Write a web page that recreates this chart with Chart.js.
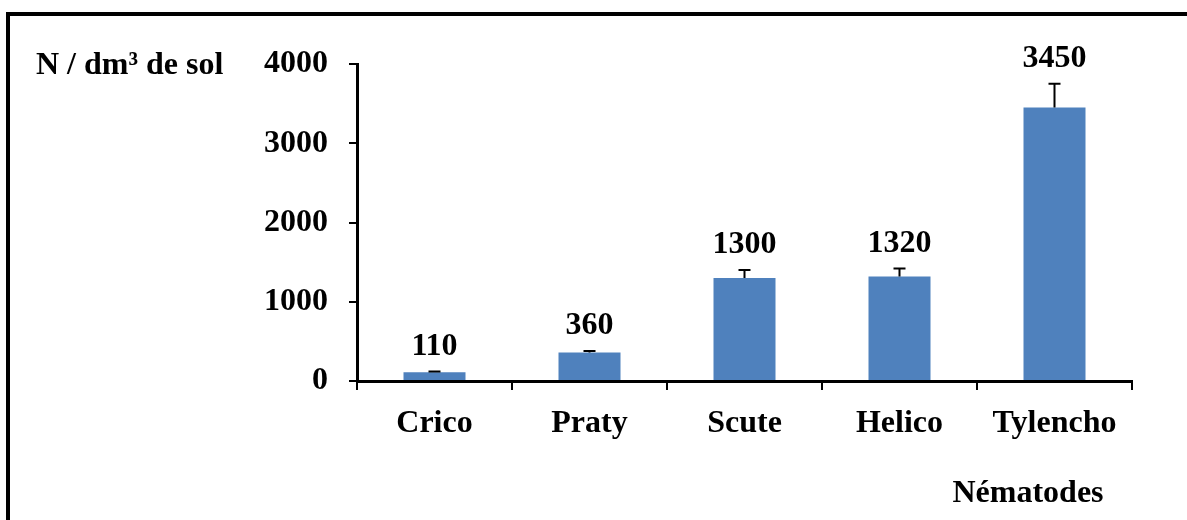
<!DOCTYPE html>
<html>
<head>
<meta charset="utf-8">
<script src="https://cdn.jsdelivr.net/npm/chart.js@4.4.1/dist/chart.umd.min.js"></script>
<style>
  body{margin:0;background:#fff;}
  #wrap{width:1187px;height:520px;}
</style>
</head>
<body>
<div id="wrap"><canvas id="mycanvas" width="1187" height="520"></canvas></div>
<script>

// data
var nematodes=["Crico","Praty","Scute","Helico","Tylencho"]
var densite=[110,360,1300,1320,3450]
var erreur=[10,20,100,100,300]
var yTicks=[0,1000,2000,3000,4000]

var yTitle="N / dm\u00b3 de sol"
var xTitle="N\u00e9matodes"

var police="'Liberation Serif', 'Times New Roman', serif"
var taille=32

//-----------------------------------------------------------------------------------------

// black frame round the picture (right and bottom sides are cut off)
var cadre={
    id:"cadre",
    beforeDraw:function(chart){
        var ctx=chart.ctx;
        ctx.save();
        ctx.strokeStyle="#000";
        ctx.lineWidth=4;
        ctx.beginPath();
        ctx.moveTo(8,520);
        ctx.lineTo(8,14);
        ctx.lineTo(1187,14);
        ctx.stroke();
        ctx.restore();
    }
}

// error bars (plus only) and value labels
var erreurs={
    id:"erreurs",
    afterDatasetsDraw:function(chart){
        var ctx=chart.ctx;
        var y=chart.scales.y;
        var meta=chart.getDatasetMeta(0);
        ctx.save();
        ctx.strokeStyle="#000";
        ctx.lineWidth=2;
        ctx.fillStyle="#000";
        ctx.font="bold "+taille+"px "+police;
        ctx.textAlign="center";
        ctx.textBaseline="middle";
        for(var i=0;i<densite.length;i++){
            var x=meta.data[i].x;
            var y0=y.getPixelForValue(densite[i]);
            var y1=y.getPixelForValue(densite[i]+erreur[i]);
            ctx.beginPath();
            ctx.moveTo(x,y0);
            ctx.lineTo(x,y1);
            ctx.moveTo(x-6,y1);
            ctx.lineTo(x+6,y1);
            ctx.stroke();
            ctx.fillText(String(densite[i]),x,y1-25);
        }
        // axis titles
        var area=chart.chartArea;
        ctx.textBaseline="alphabetic";
        ctx.textAlign="left";
        ctx.fillText(yTitle,36,area.top+10);
        ctx.textAlign="center";
        ctx.fillText(xTitle,area.right-104,502);
        ctx.restore();
    }
}

//-----------------------------------------------------------------------------------------

function drawchart(){
    const canvas=document.getElementById("mycanvas");
    const ctx=canvas.getContext("2d");
    var chart=new Chart(ctx,{
        type:"bar",
        data:{
            labels:nematodes,
            datasets:[{
                data:densite,
                backgroundColor:"#4F81BD",
                borderWidth:0,
                barPercentage:0.4,
                categoryPercentage:1
            }]
        },
        options:{
            responsive:false,
            animation:false,
            layout:{padding:{left:0,top:64,right:55,bottom:0}},
            plugins:{legend:{display:false},tooltip:{enabled:false},title:{display:false}},
            scales:{
                x:{
                    afterFit:function(s){ s.height=520-381; },
                    border:{color:"#000",width:3},
                    grid:{display:true,drawOnChartArea:false,drawTicks:true,tickLength:9,color:"#000",lineWidth:2},
                    ticks:{color:"#000",padding:15,font:{family:police,size:taille,weight:"bold"}}
                },
                y:{
                    min:0,
                    max:4000,
                    afterFit:function(s){ s.width=357; },
                    afterBuildTicks:function(s){ s.ticks=yTicks.map(function(v){return {value:v};}); },
                    border:{color:"#000",width:3},
                    grid:{display:true,drawOnChartArea:false,drawTicks:true,tickLength:8,color:"#000",lineWidth:2},
                    ticks:{color:"#000",padding:21,font:{family:police,size:taille,weight:"bold"},
                        callback:function(v){ return String(v); }}
                }
            }
        },
        plugins:[cadre,erreurs]
    })
}

drawchart();
</script>
</body>
</html>
